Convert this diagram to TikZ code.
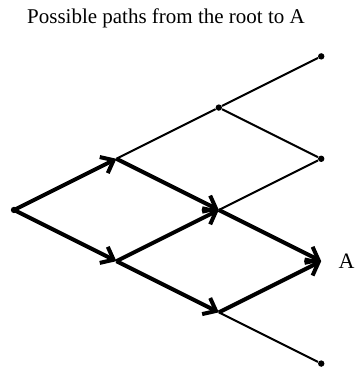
\documentclass[tikz,border=0pt]{standalone}
\usepackage{fontspec}
\setmainfont{Liberation Serif}
\usetikzlibrary{arrows.meta}

\begin{document}
\begin{tikzpicture}[x=1.8cm,y=0.9cm,
dot/.style={circle,fill,inner sep=0pt,minimum size=3.2pt},
hid/.style={circle,inner sep=0pt,minimum size=3.2pt},
path/.style={-{Straight Barb[length=5.5pt,width=9pt,line width=2pt]},line width=2pt},
other/.style={line width=1pt},
lbl/.style={font=\fontsize{11}{13}\selectfont}]
\useasboundingbox (-0.137,4.101) rectangle (3.340,-3.067);
\node[font=\fontsize{10.5}{12}\selectfont] (title) at (1.484,3.750) {Possible paths from the root to A};
% lattice points
\node[dot] (r) at (0,0) {};
\node[hid] (u1) at (1,1) {};
\node[hid] (d1) at (1,-1) {};
\node[dot] (u2) at (2,2) {};
\node[hid] (m2) at (2,0) {};
\node[hid] (d2) at (2,-2) {};
\node[dot] (u3) at (3,3) {};
\node[dot] (v3) at (3,1) {};
\node[hid] (a) at (3,-1) {};
\node[dot] (d3) at (3,-3) {};
\node[lbl,anchor=west] (alabel) at (3.1,-1) {A};
% other branches
\draw[other] (u1.center)--(u2);
\draw[other] (u2)--(u3);
\draw[other] (u2)--(v3);
\draw[other] (m2.center)--(v3);
\draw[other] (d2.center)--(d3);
% the paths to A
\draw[path] (r.center)--(u1.center);
\draw[path] (r.center)--(d1.center);
\draw[path] (u1.center)--(m2.center);
\draw[path] (d1.center)--(m2.center);
\draw[path] (d1.center)--(d2.center);
\draw[path] (m2.center)--(a.center);
\draw[path] (d2.center)--(a.center);
\end{tikzpicture}
\end{document}
